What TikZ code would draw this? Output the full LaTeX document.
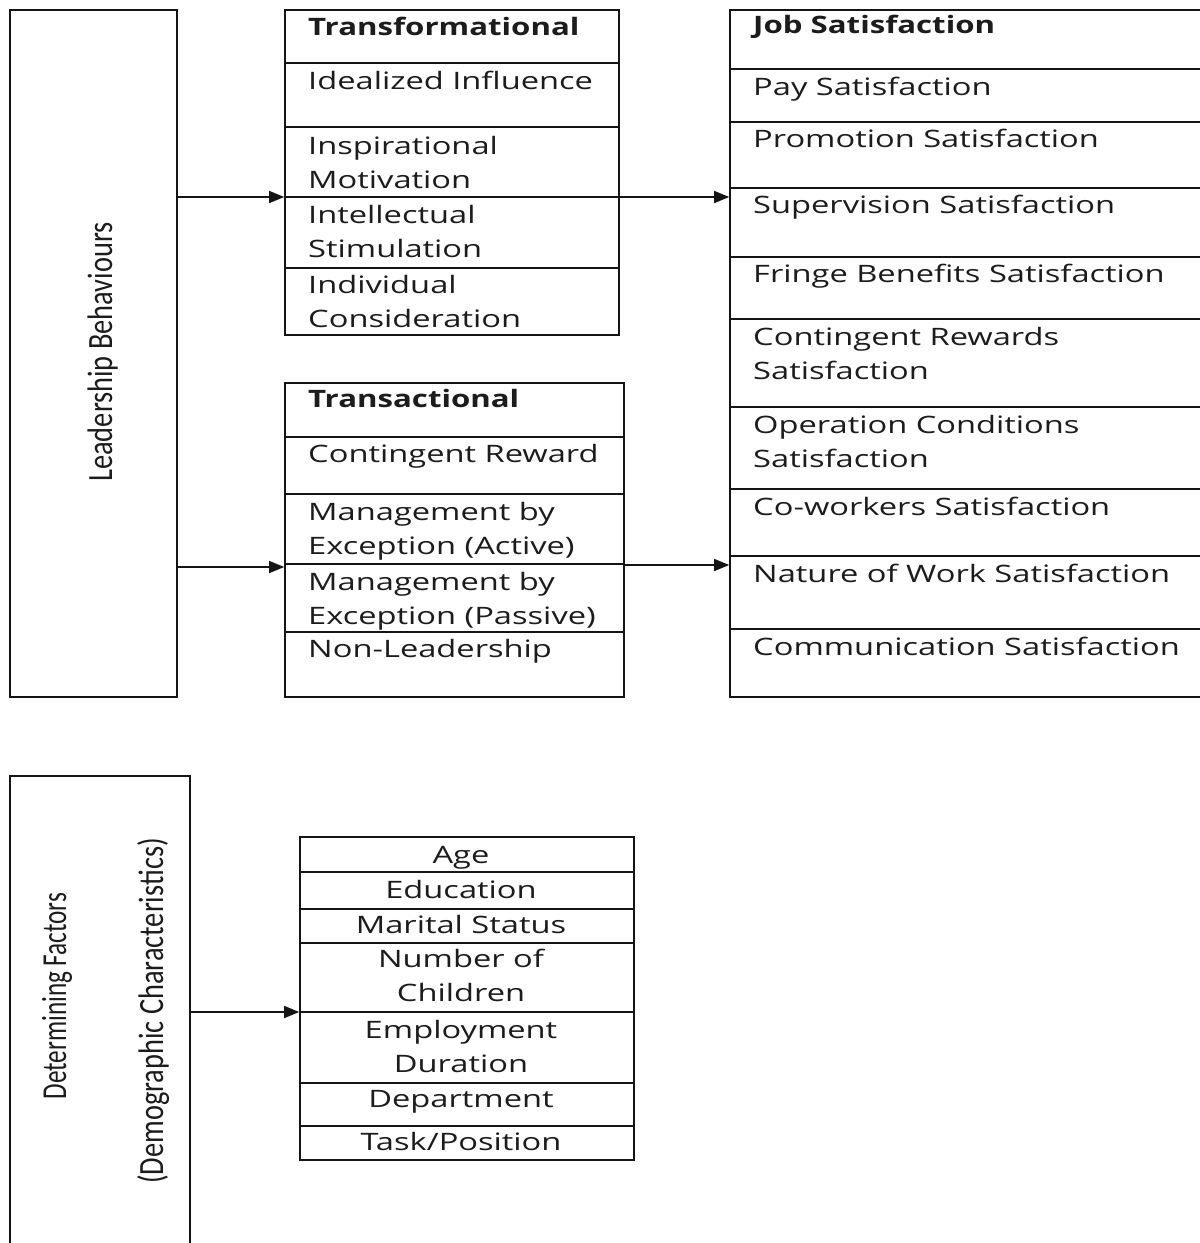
\documentclass[tikz,border=0pt]{standalone}
\usepackage{fontspec}
\usetikzlibrary{arrows.meta}
\newfontfamily\hfont{Open Sans}[FakeStretch=1.36, BoldFeatures={FakeStretch=1.30}]
\newfontfamily\vfont{Carlito}[FakeStretch=0.80]
\newfontfamily\vfontn{Carlito}[FakeStretch=0.72]
\definecolor{ink}{HTML}{151515}
\definecolor{txt}{HTML}{1C1C1C}
\begin{document}
\begin{tikzpicture}[x=1pt,y=-1pt,
  box/.style={draw=ink, line width=1.6pt, rectangle, inner sep=0pt},
  div/.style={draw=ink, line width=1.4pt},
  arr/.style={draw=ink, line width=1.4pt, -{Triangle[length=15pt,width=12pt]}},
  cell/.style={anchor=north west, inner sep=0pt, align=left, text=txt,
    font=\hfont\fontsize{24}{34}\selectfont, yshift=23.8pt},
  cellc/.style={anchor=north, inner sep=0pt, align=center, text=txt,
    font=\hfont\fontsize{24}{34}\selectfont, yshift=23.8pt},
  vlab/.style={rotate=90, anchor=base, inner sep=0pt, text=txt}]
\fill[white] (0,0) rectangle (1200,1243);
\useasboundingbox (0,0) rectangle (1200,1243);

% boxes
\node[box, minimum width=167pt, minimum height=687pt] (lead) at (93.5,353.5) {};
\node[box, minimum width=334pt, minimum height=325pt] (tf) at (452,172.5) {};
\node[box, minimum width=339pt, minimum height=314pt] (ta) at (454.5,540) {};
\node[box, minimum width=485pt, minimum height=687pt] (js) at (972.5,353.5) {};
\node[box, minimum width=180pt, minimum height=484pt] (det) at (100,1018) {};
\node[box, minimum width=334pt, minimum height=323pt] (dem) at (467,998.5) {};

% dividers
\foreach \y in {63,127,197,268} \draw[div] (285,\y) -- (619,\y);
\foreach \y in {437,494,564,632} \draw[div] (285,\y) -- (624,\y);
\foreach \y in {69,122,188,257,319,407,489,556,629} \draw[div] (730,\y) -- (1215,\y);
\foreach \y in {872,909,943,1012,1083,1126} \draw[div] (300,\y) -- (634,\y);

% rotated labels
\node[vlab, font=\vfont\fontsize{35.5}{42}\selectfont] (leadlbl) at (112,352) {Leadership Behaviours};
\node[vlab, font=\vfontn\fontsize{35}{42}\selectfont] (detlbl) at (66,996) {Determining Factors};
\node[vlab, font=\vfont\fontsize{35.5}{42}\selectfont] (demlbl) at (163,1011) {(Demographic Characteristics)};

% Transformational
\node[cell] (tf0) at (308,35) {\strut\bfseries Transformational};
\node[cell] (tf1) at (308,89) {\strut Idealized Influence};
\node[cell] (tf2) at (308,154) {\strut Inspirational\\\strut Motivation};
\node[cell] (tf3) at (308,223) {\strut Intellectual\\\strut Stimulation};
\node[cell] (tf4) at (308,293) {\strut Individual\\\strut Consideration};

% Transactional
\node[cell] (ta0) at (308,407) {\strut\bfseries Transactional};
\node[cell] (ta1) at (308,462) {\strut Contingent Reward};
\node[cell] (ta2) at (308,520) {\strut Management by\\\strut Exception (Active)};
\node[cell] (ta3) at (308,590) {\strut Management by\\\strut Exception (Passive)};
\node[cell] (ta4) at (308,657) {\strut Non-Leadership};

% Job satisfaction
\node[cell] (js0) at (753,33) {\strut\bfseries Job Satisfaction};
\node[cell] (js1) at (753,95) {\strut Pay Satisfaction};
\node[cell] (js2) at (753,147) {\strut Promotion Satisfaction};
\node[cell] (js3) at (753,213) {\strut Supervision Satisfaction};
\node[cell] (js4) at (753,282) {\strut Fringe Benefits Satisfaction};
\node[cell] (js5) at (753,345) {\strut Contingent Rewards\\\strut Satisfaction};
\node[cell] (js6) at (753,433) {\strut Operation Conditions\\\strut Satisfaction};
\node[cell] (js7) at (753,515) {\strut Co-workers Satisfaction};
\node[cell] (js8) at (753,582) {\strut Nature of Work Satisfaction};
\node[cell] (js9) at (753,655) {\strut Communication Satisfaction};

% Demographics
\node[cellc] (d1) at (461,863) {\strut Age};
\node[cellc] (d2) at (461,898) {\strut Education};
\node[cellc] (d3) at (461,933) {\strut Marital Status};
\node[cellc] (d4) at (461,967) {\strut Number of\\\strut Children};
\node[cellc] (d5) at (461,1038) {\strut Employment\\\strut Duration};
\node[cellc] (d6) at (461,1107) {\strut Department};
\node[cellc] (d7) at (461,1150) {\strut Task/Position};

% connectors
\coordinate (r1) at (0,197);
\coordinate (r2) at (0,567);
\coordinate (r3) at (0,565);
\coordinate (r4) at (0,1012);
\draw[arr] (lead.east |- r1) -- (tf.west |- r1);
\draw[arr] (tf.east |- r1) -- (js.west |- r1);
\draw[arr] (lead.east |- r2) -- (ta.west |- r2);
\draw[arr] (ta.east |- r3) -- (js.west |- r3);
\draw[arr] (det.east |- r4) -- (dem.west |- r4);
\end{tikzpicture}
\end{document}
